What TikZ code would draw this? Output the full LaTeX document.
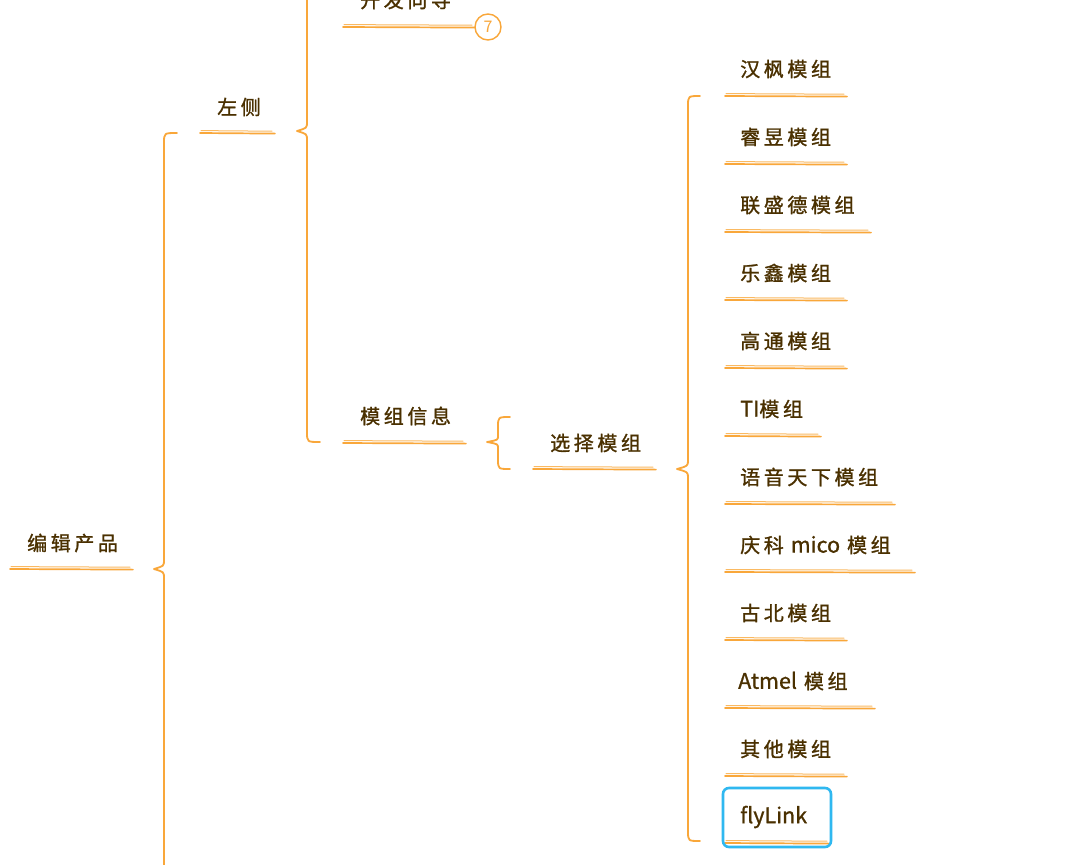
\documentclass[tikz,border=0pt]{standalone}
\usepackage{fontspec}
\newfontfamily\cjk{Noto Sans CJK SC}[LetterSpace=18, FakeBold=1.2]
\newfontfamily\cjkplain{Noto Sans CJK SC}[FakeBold=1.0]
\newfontfamily\numfont{Noto Sans CJK SC}
\newcommand{\lat}[1]{{\cjkplain\fontsize{21.5}{22}\selectfont #1}}
\definecolor{branch}{HTML}{F9A73A}
\definecolor{txt}{HTML}{4A3000}
\definecolor{sel}{HTML}{2FB8F0}
\tikzset{
  topic/.style={font=\cjk\fontsize{20}{22}\selectfont, text=txt, inner sep=0pt, anchor=west},
  ul/.style={draw=branch, line width=1.7pt, line cap=round},
  ul2/.style={draw=branch!80, line width=1pt, line cap=round},
  brace/.style={draw=branch, line width=1.8pt, line cap=round, line join=round},
}
\newcommand{\ulline}[3]{% y, x1, x2
  \draw[ul] (#2,#1) -- (#3,#1+0.6);
  \draw[ul2] (#2+1,#1-2.4) -- (#3-3,#1-1.8);
}
\begin{document}
\begin{tikzpicture}[x=1pt,y=-1pt]
\useasboundingbox (0,0) rectangle (1066,865);
\fill[white] (0,0) rectangle (1066,865);

% root
\node[topic] (root) at (27,543) {编辑产品};
\ulline{569}{10}{133}
\draw[brace] (177,133) .. controls (164,133) .. (164,143)
   -- (164,560) .. controls (164,566) .. (154,569)
   .. controls (164,572) .. (164,578) -- (164,880);

% left
\node[topic] (left) at (217,107) {左侧};
\ulline{133}{200}{275}
\draw[brace] (307,-20) -- (307,122) .. controls (307,128) .. (297,131)
   .. controls (307,134) .. (307,140) -- (307,432) .. controls (307,442) .. (320,442);

% dev guide
\node[topic] (dev) at (360,0) {开发向导};
\ulline{27}{343}{475}
\node[circle, draw=branch, line width=1.4pt, minimum size=26pt, inner sep=0pt,
      text=branch] (seven) at (488,27) {\numfont\fontsize{16}{16}\selectfont 7};

% module info
\node[topic] (info) at (360,416) {模组信息};
\ulline{443}{343}{466}
\draw[brace] (510,417) .. controls (498,417) .. (498,427)
   -- (498,436) .. controls (498,440) .. (487,442)
   .. controls (498,444) .. (498,448) -- (498,459) .. controls (498,469) .. (510,469);

% choose module
\node[topic] (choose) at (550,443) {选择模组};
\ulline{469}{533}{656}
\draw[brace] (700,96) .. controls (688,96) .. (688,106)
   -- (688,460) .. controls (688,466) .. (677,469)
   .. controls (688,472) .. (688,478) -- (688,831) .. controls (688,841) .. (700,841);

% children
\node[topic] (m1) at (740,69) {汉枫模组};   \ulline{96}{725}{847}
\node[topic] (m2) at (740,137) {睿昱模组};  \ulline{164}{725}{847}
\node[topic] (m3) at (740,205) {联盛德模组}; \ulline{232}{725}{871}
\node[topic] (m4) at (740,273) {乐鑫模组};  \ulline{300}{725}{847}
\node[topic] (m5) at (740,341) {高通模组};  \ulline{368}{725}{847}
\node[topic] (m6) at (740,409) {\lat{TI}模组};    \ulline{436}{725}{821}
\node[topic] (m7) at (740,477) {语音天下模组}; \ulline{504}{725}{895}
\node[topic] (m8) at (740,545) {庆科\hspace{7pt}\lat{mico}\hspace{7pt}模组}; \ulline{572}{725}{915}
\node[topic] (m9) at (740,613) {古北模组};  \ulline{640}{725}{847}
\node[topic] (m10) at (738,681) {\lat{Atmel}\hspace{7pt}模组}; \ulline{708}{725}{875}
\node[topic] (m11) at (740,749) {其他模组}; \ulline{776}{725}{847}
\node[topic] (m12) at (740,817) {\lat{flyLink}};
\ulline{843}{725}{830}
\draw[sel, line width=2.6pt, rounded corners=6pt] (723,788) rectangle (831,847);
\end{tikzpicture}
\end{document}
